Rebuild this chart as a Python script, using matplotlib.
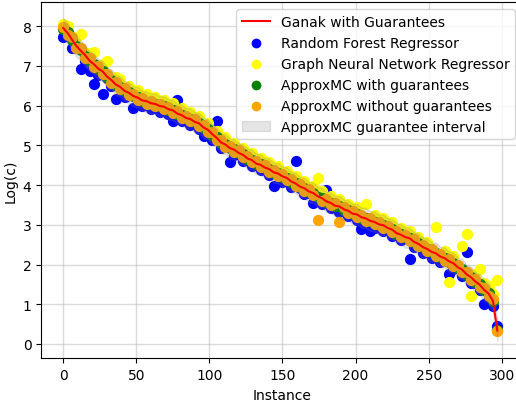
import numpy as np
import matplotlib
matplotlib.use("Agg")
import matplotlib.pyplot as plt

# Instances sorted by Ganak count (every third instance)
instances = np.arange(0, 300, 3)

ganak = [7.95, 7.83, 7.66, 7.50, 7.38, 7.27, 7.13, 7.04, 6.93, 6.86,
         6.73, 6.64, 6.53, 6.47, 6.37, 6.32, 6.24, 6.20, 6.13, 6.11,
         6.06, 6.04, 5.99, 5.97, 5.91, 5.88, 5.80, 5.76, 5.69, 5.66,
         5.59, 5.55, 5.45, 5.39, 5.28, 5.19, 5.07, 5.02, 4.93, 4.89,
         4.81, 4.76, 4.67, 4.63, 4.54, 4.51, 4.44, 4.40, 4.32, 4.29,
         4.22, 4.18, 4.09, 4.04, 3.96, 3.92, 3.84, 3.80, 3.72, 3.67,
         3.59, 3.55, 3.48, 3.46, 3.39, 3.35, 3.28, 3.26, 3.19, 3.16,
         3.10, 3.07, 3.01, 2.99, 2.92, 2.88, 2.79, 2.75, 2.69, 2.66,
         2.57, 2.52, 2.44, 2.39, 2.32, 2.28, 2.20, 2.16, 2.08, 2.03,
         1.93, 1.87, 1.75, 1.68, 1.57, 1.49, 1.36, 1.27, 1.08, 0.34]

random_forest = [7.72, 7.80, 7.45, 7.46, 6.92, 7.12, 6.88, 6.55, 6.77, 6.30,
                 6.70, 6.50, 6.16, 6.45, 6.22, 6.28, 5.95, 6.17, 5.99, 6.08,
                 5.92, 6.01, 5.85, 5.94, 5.78, 5.62, 6.14, 5.62, 5.66, 5.52,
                 5.56, 5.40, 5.24, 5.36, 5.14, 5.62, 4.93, 4.99, 4.57, 4.75,
                 4.78, 4.61, 4.64, 4.49, 4.51, 4.37, 4.41, 4.26, 3.98, 4.26,
                 4.07, 4.15, 3.95, 4.61, 3.93, 3.77, 3.81, 3.56, 3.69, 3.53,
                 3.88, 3.41, 3.45, 3.31, 3.36, 3.21, 3.25, 3.12, 2.90, 3.13,
                 2.85, 2.93, 2.98, 2.84, 2.89, 2.73, 2.76, 2.61, 2.66, 2.14,
                 2.43, 2.49, 2.30, 2.36, 2.17, 2.25, 2.06, 2.13, 1.76, 1.89,
                 1.90, 1.72, 2.32, 1.54, 1.54, 1.35, 1.00, 1.15, 0.95, 0.46]

gnn = [8.05, 8.00, 7.72, 7.70, 7.80, 7.33, 7.32, 7.34, 6.98, 7.05,
       7.13, 6.69, 6.72, 6.67, 6.42, 6.50, 6.29, 6.38, 6.18, 6.29,
       6.10, 6.22, 6.03, 6.15, 5.95, 6.06, 5.84, 5.94, 5.73, 5.84,
       5.63, 5.73, 5.49, 5.57, 5.32, 5.37, 5.11, 5.20, 4.97, 5.07,
       4.85, 4.94, 4.71, 4.81, 4.58, 4.69, 4.61, 4.58, 4.36, 4.47,
       4.26, 4.36, 4.13, 4.22, 4.00, 4.10, 3.88, 3.98, 4.19, 3.85,
       3.63, 3.73, 3.52, 3.64, 3.43, 3.53, 3.32, 3.44, 3.23, 3.52,
       3.14, 3.25, 3.05, 3.17, 2.96, 3.06, 2.83, 2.93, 2.73, 2.84,
       2.61, 2.70, 2.48, 2.57, 2.36, 2.94, 2.24, 2.34, 1.55, 2.21,
       1.97, 2.47, 2.77, 1.22, 1.75, 1.89, 1.54, 1.45, 1.26, 1.60]

approxmc_guar = [7.94, 7.84, 7.64, 7.49, 7.39, 7.25, 7.12, 7.05, 6.91, 6.87,
                 6.72, 6.65, 6.52, 6.48, 6.36, 6.33, 6.23, 6.21, 6.12, 6.10,
                 6.05, 6.05, 5.98, 5.98, 5.90, 5.89, 5.79, 5.77, 5.68, 5.67,
                 5.58, 5.56, 5.44, 5.40, 5.27, 5.20, 5.06, 5.03, 4.92, 4.90,
                 4.80, 4.77, 4.66, 4.64, 4.53, 4.52, 4.43, 4.41, 4.31, 4.30,
                 4.21, 4.19, 4.08, 4.05, 3.95, 3.93, 3.83, 3.81, 3.71, 3.68,
                 3.58, 3.56, 3.47, 3.47, 3.38, 3.36, 3.27, 3.27, 3.18, 3.17,
                 3.09, 3.08, 3.00, 3.00, 2.91, 2.89, 2.78, 2.76, 2.68, 2.67,
                 2.56, 2.53, 2.43, 2.40, 2.31, 2.29, 2.19, 2.17, 2.07, 2.04,
                 1.92, 1.88, 1.74, 1.69, 1.56, 1.50, 1.35, 1.28, 1.07, 0.35]

approxmc_noguar = [7.98, 7.77, 7.72, 7.44, 7.44, 7.21, 7.19, 6.98, 6.99, 6.80,
                   6.79, 6.58, 6.59, 6.41, 6.43, 6.26, 6.30, 6.14, 6.19, 6.05,
                   6.12, 5.98, 6.05, 5.91, 5.97, 5.82, 5.86, 5.70, 5.75, 5.60,
                   5.65, 5.49, 5.51, 5.33, 5.34, 5.13, 5.13, 4.96, 4.99, 4.83,
                   4.87, 4.70, 4.73, 4.57, 4.60, 4.45, 4.50, 4.34, 4.38, 4.23,
                   4.28, 4.12, 4.15, 3.98, 4.02, 3.86, 3.90, 3.74, 3.12, 3.61,
                   3.65, 3.49, 3.54, 3.08, 3.45, 3.29, 3.34, 3.20, 3.25, 3.10,
                   3.16, 3.01, 3.07, 2.93, 2.98, 2.82, 2.85, 2.69, 2.75, 2.60,
                   2.63, 2.46, 2.50, 2.33, 2.38, 2.22, 2.26, 2.10, 2.14, 1.97,
                   1.99, 1.81, 1.81, 1.62, 1.63, 1.43, 1.42, 1.21, 1.14, 0.32]

# ApproxMC tolerance (epsilon) -> multiplicative bound (1 + eps) on the count
EPSILON = 0.8
half_width = np.log10(1 + EPSILON)
guar = np.array(approxmc_guar)
lower = guar - half_width
upper = guar + half_width

fig = plt.figure(figsize=(5.16, 4.10), dpi=100)
ax = fig.add_axes([0.080, 0.1237, 0.932, 0.8683])
ax.set_axisbelow(True)

size = 50
ax.plot(instances, ganak, color="red", linewidth=1.5, label="Ganak with Guarantees")
ax.scatter(instances, random_forest, color="blue", s=size, label="Random Forest Regressor")
ax.scatter(instances, gnn, color="yellow", s=size, label="Graph Neural Network Regressor")
ax.scatter(instances, approxmc_guar, color="green", s=size, label="ApproxMC with guarantees")
ax.scatter(instances, approxmc_noguar, color="orange", s=size, label="ApproxMC without guarantees")
ax.fill_between(instances, lower, upper, color="gray", alpha=0.2,
                label="ApproxMC guarantee interval")

ax.set_xlim(-15, 314)
ax.set_ylim(-0.36, 8.6)
ax.set_xlabel("Instance")
ax.set_ylabel("Log(c)")
ax.grid(True, color="#b0b0b0", alpha=0.45, linewidth=1.0)
ax.legend(loc="upper right", markerscale=0.85)

fig.savefig("out.png", dpi=100)
